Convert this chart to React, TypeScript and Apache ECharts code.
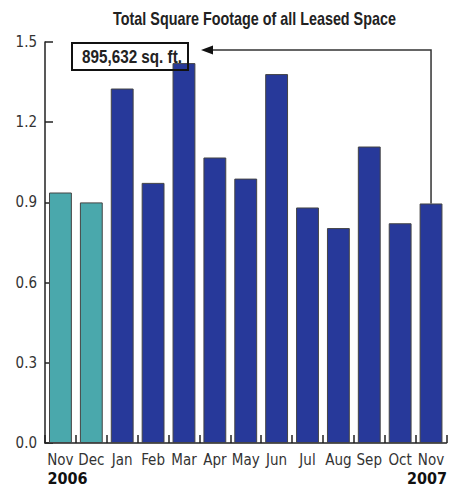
import React, { useEffect, useRef } from "react";
import * as echarts from "echarts";

const categories = ["Nov", "Dec", "Jan", "Feb", "Mar", "Apr", "May", "Jun", "Jul", "Aug", "Sep", "Oct", "Nov"];
const values = [0.937, 0.9, 1.326, 0.973, 1.421, 1.068, 0.989, 1.38, 0.881, 0.804, 1.109, 0.822, 0.896];
const yearLabels = ["2006", "2007"];
const titleText = "Total Square Footage of all Leased Space";
const calloutText = "895,632 sq. ft.";
const yTicks = { min: 0, max: 1.5, interval: 0.3 };

const TEAL = "#4aa8ac";
const BLUE = "#27399a";
const AXFONT = "'DejaVu Sans Condensed', 'Liberation Sans', sans-serif";
const HFONT = "'Liberation Sans', Arial, sans-serif";

function measure(text: string, font: string): number {
  const c = document.createElement("canvas");
  const ctx = c.getContext("2d");
  if (!ctx) return 1;
  ctx.font = font;
  return ctx.measureText(text).width || 1;
}

export default function App() {
  const ref = useRef<HTMLDivElement>(null);
  useEffect(() => {
    if (!ref.current) return;
    const chart = echarts.init(ref.current, null, { renderer: "svg" });
    const last = categories.length - 1;
    chart.setOption({
      animation: false,
      backgroundColor: "#ffffff",
      grid: { left: 45, right: 10, top: 42, bottom: 42, containLabel: false },
      xAxis: {
        type: "category",
        data: categories,
        boundaryGap: true,
        axisLine: { show: true, lineStyle: { color: "#222", width: 1.5 } },
        axisTick: { show: true, inside: true, length: 8, lineStyle: { color: "#222", width: 1.5 } },
        axisLabel: {
          interval: 0,
          margin: 8,
          fontFamily: AXFONT,
          fontSize: 15,
          color: "#333",
          lineHeight: 18,
          formatter: (v: string, i: number) =>
            i === 0 ? `${v}\n{a|${yearLabels[0]}}` : i === last ? `${v}\n{b|${yearLabels[1]}}` : v,
          rich: {
            a: { fontFamily: AXFONT, fontSize: 16, fontWeight: "bold", color: "#111", lineHeight: 18, padding: [0, 0, 0, 14] },
            b: { fontFamily: AXFONT, fontSize: 16, fontWeight: "bold", color: "#111", lineHeight: 18, padding: [0, 8, 0, 0] },
          },
        },
        splitLine: { show: false },
      },
      yAxis: {
        type: "value",
        min: yTicks.min,
        max: yTicks.max,
        interval: yTicks.interval,
        axisLine: { show: true, lineStyle: { color: "#222", width: 1.5 } },
        axisTick: { show: true, inside: true, length: 8, lineStyle: { color: "#222", width: 1.5 } },
        axisLabel: {
          margin: 8,
          fontFamily: AXFONT,
          fontSize: 15,
          color: "#333",
          formatter: (v: number) => v.toFixed(1),
        },
        splitLine: { show: false },
      },
      series: [
        {
          type: "bar",
          data: values.map((v, i) => ({
            value: v,
            itemStyle: { color: i < 2 ? TEAL : BLUE },
          })),
          barCategoryGap: "26%",
          itemStyle: { borderColor: "#444", borderWidth: 1 },
          z: 2,
        },
      ],
    });

    const [xLast, yBarTop] = chart.convertToPixel({ seriesIndex: 0 }, [last, values[last]]) as number[];
    const yArrow = chart.convertToPixel({ yAxisIndex: 0 }, 1.47) as number;
    const tipX = 201;
    const titleW = measure(titleText, `bold 18px ${HFONT}`);
    const calloutW = measure(calloutText, `bold 18px ${HFONT}`);
    chart.setOption({
      graphic: [
        {
          type: "text",
          z: 11,
          x: 254.5,
          y: 18,
          scaleX: 283 / titleW,
          style: {
            text: titleText,
            fontFamily: HFONT,
            fontSize: 18,
            fontWeight: "bold",
            fill: "#222",
            textAlign: "center",
            textVerticalAlign: "middle",
          },
        },
        {
          type: "polyline",
          z: 10,
          shape: { points: [[xLast, yBarTop], [xLast, yArrow], [tipX + 10, yArrow]] },
          style: { stroke: "#333", lineWidth: 1.5, fill: null },
        },
        {
          type: "polygon",
          z: 10,
          shape: { points: [[tipX, yArrow], [tipX + 12, yArrow - 4.5], [tipX + 12, yArrow + 4.5]] },
          style: { fill: "#111" },
        },
        {
          type: "rect",
          z: 10,
          shape: { x: 72, y: 43, width: 116, height: 27 },
          style: { stroke: "#111", lineWidth: 2, fill: null },
        },
        {
          type: "text",
          z: 11,
          x: 132,
          y: 57,
          scaleX: 100 / calloutW,
          style: {
            text: calloutText,
            fontFamily: HFONT,
            fontSize: 18,
            fontWeight: "bold",
            fill: "#222",
            textAlign: "center",
            textVerticalAlign: "middle",
          },
        },
      ],
    });

    return () => chart.dispose();
  }, []);
  return <div ref={ref} style={{ position: "fixed", left: 0, top: 0, width: 458, height: 487 }} />;
}
